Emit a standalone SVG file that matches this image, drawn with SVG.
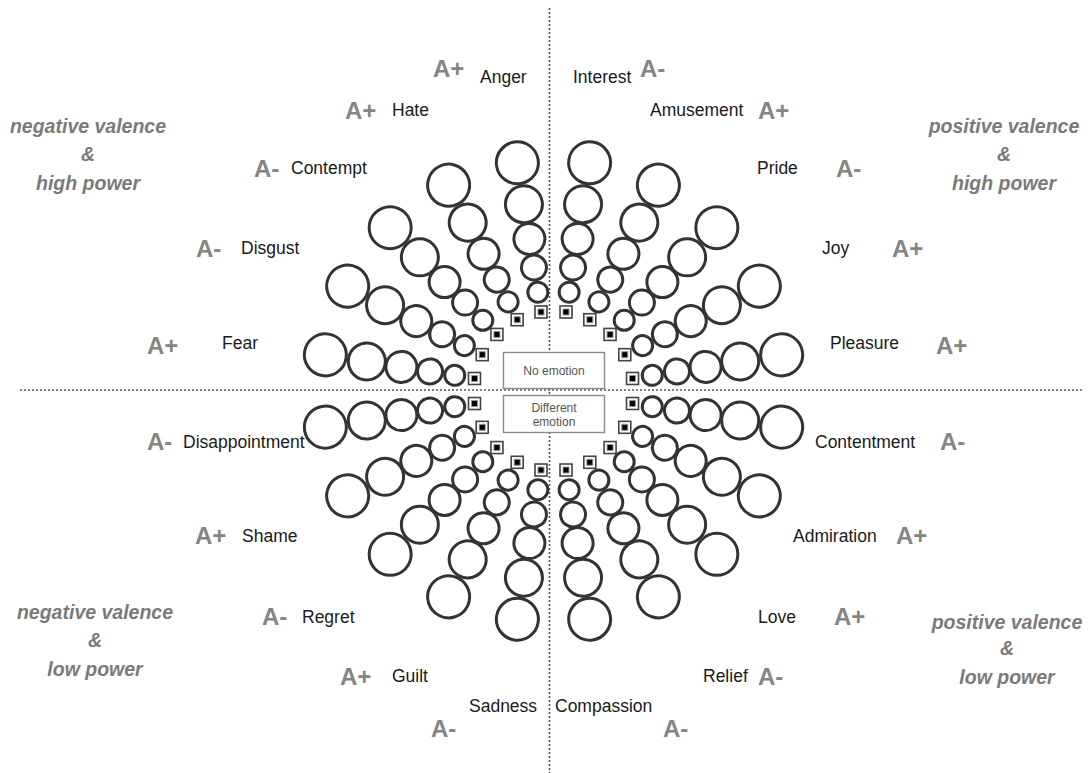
<svg xmlns="http://www.w3.org/2000/svg" xmlns:xlink="http://www.w3.org/1999/xlink" width="1091" height="773" viewBox="0 0 1091 773">
<style>
.bg{fill:#ffffff}
.axis{stroke:#555;stroke-width:1.6;stroke-dasharray:2 2;fill:none}
.ring circle{fill:none;stroke:#333;stroke-width:3}
.sqo{fill:#fff;stroke:#444;stroke-width:1.6}
.sqi{fill:#000;stroke:#999;stroke-width:1}
.box{fill:#fff;stroke:#8a8a8a;stroke-width:1.4}
.boxt{font-family:"Liberation Sans",Arial,sans-serif;font-size:12px;fill:#555;text-anchor:middle}
.lbl{font-family:"Liberation Sans",Arial,sans-serif;font-size:17.5px;fill:#1a1a1a}
.ar{font-family:"Liberation Sans",Arial,sans-serif;font-size:24px;font-weight:bold;fill:#858585}
.q{font-family:"Liberation Sans",Arial,sans-serif;font-size:19.5px;font-weight:bold;font-style:italic;fill:#7a7a7a;text-anchor:middle}
</style>
<defs>
<g id="spokeShape" class="ring">
<circle cx="0" cy="-100" r="10"/>
<circle cx="0" cy="-125" r="12.5"/>
<circle cx="0" cy="-154" r="15.5"/>
<circle cx="0" cy="-189" r="18.5"/>
<circle cx="0" cy="-231" r="21"/>
</g>
<g id="sq">
<rect class="sqo" x="-6" y="-6" width="12" height="12"/>
<rect class="sqi" x="-3" y="-3" width="6" height="6"/>
</g>
</defs>
<rect class="bg" x="0" y="0" width="1091" height="773"/>

<g id="connectors">
<line class="axis" x1="549.5" y1="8" x2="549.5" y2="773"/>
<line class="axis" x1="20" y1="390" x2="1084" y2="390"/>
</g>

<g id="spoke-anger"><use xlink:href="#spokeShape" transform="translate(553.5 391) rotate(-9)"/><use xlink:href="#sq" transform="translate(553.5 391) rotate(-9) translate(0 -80) rotate(9)"/></g>
<g id="spoke-hate"><use xlink:href="#spokeShape" transform="translate(553.5 391) rotate(-27)"/><use xlink:href="#sq" transform="translate(553.5 391) rotate(-27) translate(0 -80) rotate(27)"/></g>
<g id="spoke-contempt"><use xlink:href="#spokeShape" transform="translate(553.5 391) rotate(-45)"/><use xlink:href="#sq" transform="translate(553.5 391) rotate(-45) translate(0 -80) rotate(45)"/></g>
<g id="spoke-disgust"><use xlink:href="#spokeShape" transform="translate(553.5 391) rotate(-63)"/><use xlink:href="#sq" transform="translate(553.5 391) rotate(-63) translate(0 -80) rotate(63)"/></g>
<g id="spoke-fear"><use xlink:href="#spokeShape" transform="translate(553.5 391) rotate(-81)"/><use xlink:href="#sq" transform="translate(553.5 391) rotate(-81) translate(0 -80) rotate(81)"/></g>
<g id="spoke-disappointment"><use xlink:href="#spokeShape" transform="translate(553.5 391) rotate(-99)"/><use xlink:href="#sq" transform="translate(553.5 391) rotate(-99) translate(0 -80) rotate(99)"/></g>
<g id="spoke-shame"><use xlink:href="#spokeShape" transform="translate(553.5 391) rotate(-117)"/><use xlink:href="#sq" transform="translate(553.5 391) rotate(-117) translate(0 -80) rotate(117)"/></g>
<g id="spoke-regret"><use xlink:href="#spokeShape" transform="translate(553.5 391) rotate(-135)"/><use xlink:href="#sq" transform="translate(553.5 391) rotate(-135) translate(0 -80) rotate(135)"/></g>
<g id="spoke-guilt"><use xlink:href="#spokeShape" transform="translate(553.5 391) rotate(-153)"/><use xlink:href="#sq" transform="translate(553.5 391) rotate(-153) translate(0 -80) rotate(153)"/></g>
<g id="spoke-sadness"><use xlink:href="#spokeShape" transform="translate(553.5 391) rotate(-171)"/><use xlink:href="#sq" transform="translate(553.5 391) rotate(-171) translate(0 -80) rotate(171)"/></g>
<g id="spoke-interest"><use xlink:href="#spokeShape" transform="translate(553.5 391) rotate(9)"/><use xlink:href="#sq" transform="translate(553.5 391) rotate(9) translate(0 -80) rotate(-9)"/></g>
<g id="spoke-amusement"><use xlink:href="#spokeShape" transform="translate(553.5 391) rotate(27)"/><use xlink:href="#sq" transform="translate(553.5 391) rotate(27) translate(0 -80) rotate(-27)"/></g>
<g id="spoke-pride"><use xlink:href="#spokeShape" transform="translate(553.5 391) rotate(45)"/><use xlink:href="#sq" transform="translate(553.5 391) rotate(45) translate(0 -80) rotate(-45)"/></g>
<g id="spoke-joy"><use xlink:href="#spokeShape" transform="translate(553.5 391) rotate(63)"/><use xlink:href="#sq" transform="translate(553.5 391) rotate(63) translate(0 -80) rotate(-63)"/></g>
<g id="spoke-pleasure"><use xlink:href="#spokeShape" transform="translate(553.5 391) rotate(81)"/><use xlink:href="#sq" transform="translate(553.5 391) rotate(81) translate(0 -80) rotate(-81)"/></g>
<g id="spoke-contentment"><use xlink:href="#spokeShape" transform="translate(553.5 391) rotate(99)"/><use xlink:href="#sq" transform="translate(553.5 391) rotate(99) translate(0 -80) rotate(-99)"/></g>
<g id="spoke-admiration"><use xlink:href="#spokeShape" transform="translate(553.5 391) rotate(117)"/><use xlink:href="#sq" transform="translate(553.5 391) rotate(117) translate(0 -80) rotate(-117)"/></g>
<g id="spoke-love"><use xlink:href="#spokeShape" transform="translate(553.5 391) rotate(135)"/><use xlink:href="#sq" transform="translate(553.5 391) rotate(135) translate(0 -80) rotate(-135)"/></g>
<g id="spoke-relief"><use xlink:href="#spokeShape" transform="translate(553.5 391) rotate(153)"/><use xlink:href="#sq" transform="translate(553.5 391) rotate(153) translate(0 -80) rotate(-153)"/></g>
<g id="spoke-compassion"><use xlink:href="#spokeShape" transform="translate(553.5 391) rotate(171)"/><use xlink:href="#sq" transform="translate(553.5 391) rotate(171) translate(0 -80) rotate(-171)"/></g>

<g id="no-emotion"><rect class="box" x="503.5" y="352.5" width="101" height="36"/><text class="boxt" x="554" y="375">No emotion</text></g>
<g id="different-emotion"><rect class="box" x="503.5" y="395.5" width="101" height="37"/><text class="boxt" x="554" y="411.5">Different</text><text class="boxt" x="554" y="426">emotion</text></g>

<g id="labels-left">
<text class="ar" x="433" y="77">A+</text><text class="lbl" x="480" y="83">Anger</text>
<text class="ar" x="345" y="119">A+</text><text class="lbl" x="392" y="116">Hate</text>
<text class="ar" x="254" y="177">A-</text><text class="lbl" x="291" y="174">Contempt</text>
<text class="ar" x="196" y="257">A-</text><text class="lbl" x="241" y="254">Disgust</text>
<text class="ar" x="147" y="354">A+</text><text class="lbl" x="222" y="349">Fear</text>
<text class="ar" x="147" y="450">A-</text><text class="lbl" x="183" y="448">Disappointment</text>
<text class="ar" x="195" y="544">A+</text><text class="lbl" x="242" y="542">Shame</text>
<text class="ar" x="262" y="625">A-</text><text class="lbl" x="302" y="623">Regret</text>
<text class="ar" x="340" y="685">A+</text><text class="lbl" x="392" y="682">Guilt</text>
<text class="lbl" x="469" y="712">Sadness</text><text class="ar" x="431" y="737">A-</text>
</g>
<g id="labels-right">
<text class="lbl" x="573" y="83">Interest</text><text class="ar" x="640" y="77">A-</text>
<text class="lbl" x="650" y="116">Amusement</text><text class="ar" x="758" y="119">A+</text>
<text class="lbl" x="757" y="174">Pride</text><text class="ar" x="836" y="177">A-</text>
<text class="lbl" x="822" y="254">Joy</text><text class="ar" x="892" y="257">A+</text>
<text class="lbl" x="830" y="349">Pleasure</text><text class="ar" x="936" y="354">A+</text>
<text class="lbl" x="815" y="448">Contentment</text><text class="ar" x="940" y="450">A-</text>
<text class="lbl" x="793" y="542">Admiration</text><text class="ar" x="896" y="544">A+</text>
<text class="lbl" x="758" y="623">Love</text><text class="ar" x="834" y="625">A+</text>
<text class="lbl" x="703" y="682">Relief</text><text class="ar" x="758" y="685">A-</text>
<text class="lbl" x="555" y="712">Compassion</text><text class="ar" x="663" y="737">A-</text>
</g>

<g id="quadrant-nh"><text class="q" x="88" y="133">negative valence</text><text class="q" x="88" y="161">&amp;</text><text class="q" x="88" y="190">high power</text></g>
<g id="quadrant-ph"><text class="q" x="1004" y="133">positive valence</text><text class="q" x="1004" y="161">&amp;</text><text class="q" x="1004" y="190">high power</text></g>
<g id="quadrant-nl"><text class="q" x="95" y="619">negative valence</text><text class="q" x="95" y="647">&amp;</text><text class="q" x="95" y="676">low power</text></g>
<g id="quadrant-pl"><text class="q" x="1007" y="629">positive valence</text><text class="q" x="1007" y="655">&amp;</text><text class="q" x="1007" y="684">low power</text></g>
</svg>
